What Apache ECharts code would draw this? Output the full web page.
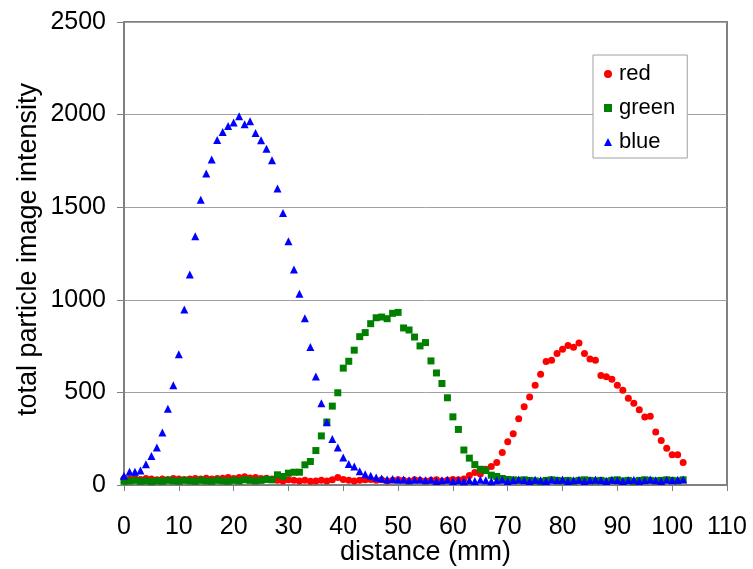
<!DOCTYPE html>
<html>
<head>
<meta charset="utf-8">
<script src="https://cdn.jsdelivr.net/npm/echarts@6/dist/echarts.min.js"></script>
<style>
html,body{margin:0;padding:0;background:#fff;}
#chart{width:753px;height:569px;}
</style>
</head>
<body>
<div id="chart"></div>
<script>
// distance (mm) for each measurement point
var distance = [];
for (var i = 0; i <= 102; i++) distance.push(i);

var redValues = [
  35,33,37,30,35,32,28,33,30,35,32,30,33,35,32,37,33,35,37,40,35,
  40,45,38,40,35,37,32,
  25,22,28,25,22,25,20,22,25,22,28,40,30,25,22,25,28,
  30,25,28,22,25,28,25,22,28,25,22,25,28,22,25,30,28,
  32,51,67,60,85,100,121,175,234,277,358,423,475,539,598,667,674,710,733,753,
  744,767,710,681,674,591,584,571,538,512,468,442,406,367,371,286,240,199,163,163,121
];
var greenValues = [
  20,22,25,20,22,18,22,20,25,22,20,25,22,20,25,22,20,25,22,20,25,22,28,25,22,25,30,28,
  55,46,64,69,69,
  109,127,186,265,340,426,498,631,668,728,801,823,871,903,907,898,927,932,848,837,
  799,751,769,670,605,548,471,368,300,189,145,110,85,78,53,46,
  35,30,28,25,28,25,22,18,25,28,25,22,25,20,25,28,25,22,25,20,
  25,28,22,25,18,25,28,25,22,25,28,25,22,28
];
var blueValues = [
  50,71,71,78,112,157,202,283,412,539,706,947,1137,1343,1540,1682,1757,1863,1906,1939,
  1958,1991,1948,1964,1901,1861,1816,1754,1601,1469,1316,1164,1033,901,745,586,441,339,249,203,
  149,114,100,74,58,50,
  40,35,30,32,28,30,25,28,30,25,28,22,25,28,22,25,20,25,22,28,
  25,20,25,28,22,25,30,25,22,28,25,22,28,25,30,22,25,28,22,25,
  30,25,22,28,25,22,25,28,22,25,30,25,22,28,25,28,30
];
var seriesNames = ['red', 'green', 'blue'];
var xTicks = [0,10,20,30,40,50,60,70,80,90,100,110];
var yTicks = [0,500,1000,1500,2000,2500];

function pairs(vals){ return vals.map(function(v,i){ return [distance[i], v]; }); }

var FONT = 'Liberation Sans, Arial, sans-serif';
var chart = echarts.init(document.getElementById('chart'), null, {renderer:'canvas'});
chart.setOption({
  animation:false,
  backgroundColor:'#ffffff',
  grid:{left:124, top:22, right:26, bottom:84, containLabel:false, outerBoundsMode:'none',
        show:true, borderColor:'#808080', borderWidth:2, backgroundColor:'transparent'},
  legend:{
    orient:'vertical', left:593, top:55,
    padding:[8,12,5,11], itemGap:12, itemWidth:8, itemHeight:8,
    borderColor:'#a0a0a0', borderWidth:1, backgroundColor:'#ffffff',
    textStyle:{fontFamily:FONT, fontSize:22, color:'#000', padding:[0,0,0,2]},
    data:[
      {name:seriesNames[0], icon:'circle'},
      {name:seriesNames[1], icon:'rect'},
      {name:seriesNames[2], icon:'triangle'}
    ]
  },
  xAxis:{
    type:'value', min:xTicks[0], max:xTicks[xTicks.length-1], interval:10,
    name:'distance (mm)', nameLocation:'middle', nameGap:54, nameMoveOverlap:false,
    nameTextStyle:{fontFamily:FONT, fontSize:27, color:'#000'},
    axisLine:{show:true, onZero:false, lineStyle:{color:'#808080', width:2}},
    axisTick:{show:true, length:6, inside:false, lineStyle:{color:'#808080', width:1}},
    axisLabel:{fontFamily:FONT, fontSize:25, color:'#000', margin:30, formatter:function(v){return String(v);}},
    splitLine:{show:false}
  },
  yAxis:{
    type:'value', min:yTicks[0], max:yTicks[yTicks.length-1], interval:500,
    name:'total particle image intensity', nameLocation:'middle', nameGap:82, nameMoveOverlap:false,
    nameTextStyle:{fontFamily:FONT, fontSize:27, color:'#000', padding:[0,0,0,8]},
    axisLine:{show:true, lineStyle:{color:'#808080', width:2}},
    axisTick:{show:true, length:7, inside:false, lineStyle:{color:'#808080', width:1}},
    axisLabel:{fontFamily:FONT, fontSize:25, color:'#000', margin:18, formatter:function(v){return String(v);}},
    splitLine:{show:true, lineStyle:{color:'#a0a0a0', width:1}}
  },
  series:[
    {name:seriesNames[0], type:'scatter', symbol:'circle', symbolSize:7, itemStyle:{color:'#ff0000', opacity:1}, data:pairs(redValues), z:2},
    {name:seriesNames[1], type:'scatter', symbol:'rect', symbolSize:7, itemStyle:{color:'#008000', opacity:1}, data:pairs(greenValues), z:3},
    {name:seriesNames[2], type:'scatter', symbol:'triangle', symbolSize:8, itemStyle:{color:'#0000ff', opacity:1}, data:pairs(blueValues), z:4}
  ]
});
</script>
</body>
</html>
